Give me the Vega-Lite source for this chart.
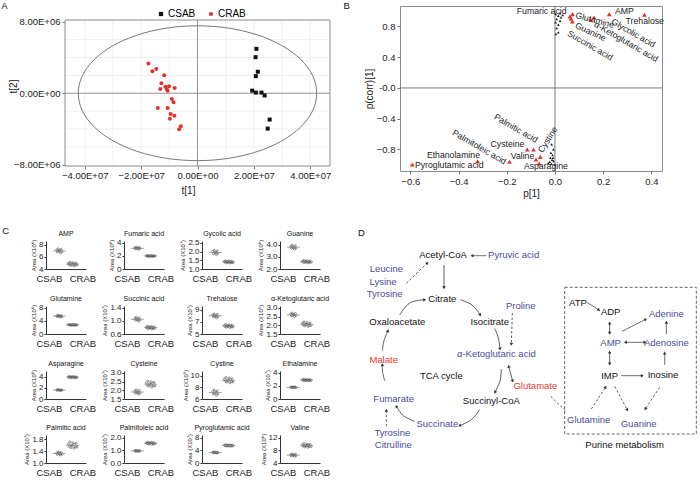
{
"$schema":"https://vega.github.io/schema/vega-lite/v6.json",
"padding":{"left":1,"top":0,"right":0,"bottom":0},
"background":"white",
"config":{
 "font":"Liberation Sans, Arial, sans-serif",
 "view":{"stroke":null},
 "axis":{"grid":false,"domainColor":"#333","tickColor":"#333","labelColor":"#222","titleColor":"#222","titleFontWeight":"normal","labelFontSize":8,"titleFontSize":6,"tickSize":2,"labelPadding":1,"titlePadding":2},
 "axisBand":{"labelAngle":0,"ticks":false,"labelFontSize":9.5,"labelPadding":4},
 "title":{"fontSize":7,"fontWeight":"normal","offset":2,"color":"#111"}
},
"datasets":{
 "ell":[{"o":0,"t1":42300000,"t2":0},{"o":1,"t1":40860000,"t2":1954000},{"o":2,"t1":36630000,"t2":3775000},{"o":3,"t1":29910000,"t2":5339000},{"o":4,"t1":21150000,"t2":6538000},{"o":5,"t1":10950000,"t2":7293000},{"o":6,"t1":0,"t2":7550000},{"o":7,"t1":-10950000,"t2":7293000},{"o":8,"t1":-21150000,"t2":6538000},{"o":9,"t1":-29910000,"t2":5339000},{"o":10,"t1":-36630000,"t2":3775000},{"o":11,"t1":-40860000,"t2":1954000},{"o":12,"t1":-42300000,"t2":0},{"o":13,"t1":-40860000,"t2":-1954000},{"o":14,"t1":-36630000,"t2":-3775000},{"o":15,"t1":-29910000,"t2":-5339000},{"o":16,"t1":-21150000,"t2":-6538000},{"o":17,"t1":-10950000,"t2":-7293000},{"o":18,"t1":0,"t2":-7550000},{"o":19,"t1":10950000,"t2":-7293000},{"o":20,"t1":21150000,"t2":-6538000},{"o":21,"t1":29910000,"t2":-5339000},{"o":22,"t1":36630000,"t2":-3775000},{"o":23,"t1":40860000,"t2":-1954000}],
 "gx":[{"t1":-40000000},{"t1":-30000000},{"t1":-20000000},{"t1":-10000000},{"t1":10000000},{"t1":20000000},{"t1":30000000},{"t1":40000000}],
 "gy":[{"t2":-6000000},{"t2":-4000000},{"t2":-2000000},{"t2":2000000},{"t2":4000000},{"t2":6000000}],
 "pa":[{"g":"CSAB","t1":20900000,"t2":4970000},{"g":"CSAB","t1":20600000,"t2":4040000},{"g":"CSAB","t1":21400000,"t2":2410000},{"g":"CSAB","t1":20700000,"t2":1910000},{"g":"CSAB","t1":19400000,"t2":290000},{"g":"CSAB","t1":20700000,"t2":70000},{"g":"CSAB","t1":22700000,"t2":70000},{"g":"CSAB","t1":23800000,"t2":-250000},{"g":"CSAB","t1":25600000,"t2":-2950000},{"g":"CSAB","t1":24900000,"t2":-3960000},
 {"g":"CRAB","t1":-17400000,"t2":3320000},{"g":"CRAB","t1":-16000000,"t2":2450000},{"g":"CRAB","t1":-14600000,"t2":2700000},{"g":"CRAB","t1":-11800000,"t2":2020000},{"g":"CRAB","t1":-12800000,"t2":1120000},{"g":"CRAB","t1":-13200000,"t2":470000},{"g":"CRAB","t1":-11400000,"t2":720000},{"g":"CRAB","t1":-10900000,"t2":470000},{"g":"CRAB","t1":-10100000,"t2":790000},{"g":"CRAB","t1":-10600000,"t2":290000},{"g":"CRAB","t1":-8100000,"t2":580000},{"g":"CRAB","t1":-9100000,"t2":-650000},{"g":"CRAB","t1":-8500000,"t2":-1010000},{"g":"CRAB","t1":-14100000,"t2":-1660000},{"g":"CRAB","t1":-10600000,"t2":-1660000},{"g":"CRAB","t1":-9500000,"t2":-2340000},{"g":"CRAB","t1":-8200000,"t2":-2520000},{"g":"CRAB","t1":-9800000,"t2":-2850000},{"g":"CRAB","t1":-5900000,"t2":-3710000},{"g":"CRAB","t1":-6500000,"t2":-4040000}],
 "pb":[{"k":"ns","px":0.003,"py":0.961},{"k":"ns","px":0.014,"py":0.939},{"k":"ns","px":0.025,"py":0.917},{"k":"ns","px":0.007,"py":0.896},{"k":"ns","px":0.021,"py":0.874},{"k":"ns","px":0.003,"py":0.852},{"k":"ns","px":0.014,"py":0.822},{"k":"ns","px":0.007,"py":0.778},{"k":"ns","px":0.014,"py":0.722},{"k":"ns","px":0.004,"py":0.7},{"k":"ns","px":0.021,"py":0.97},{"k":"ns","px":0.032,"py":0.948},
 {"k":"ns","px":-0.014,"py":-0.735},{"k":"ns","px":-0.007,"py":-0.8},{"k":"ns","px":-0.017,"py":-0.843},{"k":"ns","px":-0.01,"py":-0.874},{"k":"ns","px":-0.019,"py":-0.909},{"k":"ns","px":-0.012,"py":-0.935},{"k":"ns","px":-0.022,"py":-0.961},{"k":"ns","px":-0.006,"py":-0.952},{"k":"ns","px":-0.015,"py":-0.987},{"k":"ns","px":-0.028,"py":-0.978},{"k":"ns","px":-0.008,"py":-0.909},{"k":"ns","px":-0.001,"py":-0.996},
 {"k":"sig","n":"Trehalose","px":0.371,"py":0.952},{"k":"sig","n":"AMP","px":0.225,"py":0.96},{"k":"sig","n":"Glycolic acid","px":0.162,"py":0.917},{"k":"sig","n":"α-Ketoglutaric acid","px":0.148,"py":0.887},{"k":"sig","n":"Glutamine","px":0.073,"py":0.96},{"k":"sig","n":"Fumaric acid","px":0.062,"py":0.93},{"k":"sig","n":"Succinic acid","px":0.066,"py":0.9},{"k":"sig","n":"Guanine","px":0.072,"py":0.865},{"k":"sig","n":"Pyroglutamic acid","px":-0.592,"py":-0.996},{"k":"sig","n":"Ethanolamine","px":-0.321,"py":-0.952},{"k":"sig","n":"Palmitoleic acid","px":-0.189,"py":-0.96},{"k":"sig","n":"Cysteine","px":-0.115,"py":-0.8},{"k":"sig","n":"Palmitic acid","px":-0.089,"py":-0.8},{"k":"sig","n":"Valine","px":-0.079,"py":-0.93},{"k":"sig","n":"Asparagine","px":-0.066,"py":-0.983},{"k":"sig","n":"Cystine","px":-0.061,"py":-0.896}],
 "lb":[{"n":"Fumaric acid","lx":0.048,"ly":0.996,"grp":"hr"},{"n":"Glutamine","lx":0.086,"ly":0.952,"grp":"r15"},{"n":"AMP","lx":0.249,"ly":0.996,"grp":"hl"},{"n":"Trehalose","lx":0.293,"ly":0.874,"grp":"hl"},{"n":"Glycolic acid","lx":0.238,"ly":0.874,"grp":"r30"},{"n":"α-Ketoglutaric acid","lx":0.166,"ly":0.839,"grp":"r30"},{"n":"Guanine","lx":0.086,"ly":0.822,"grp":"r25"},{"n":"Succinic acid","lx":0.055,"ly":0.72,"grp":"r30"},{"n":"Palmitic acid","lx":-0.249,"ly":-0.365,"grp":"r30"},{"n":"Palmitoleic acid","lx":-0.422,"ly":-0.57,"grp":"r30"},{"n":"Cysteine","lx":-0.127,"ly":-0.735,"grp":"hr"},{"n":"Valine","lx":-0.086,"ly":-0.887,"grp":"hr"},{"n":"Asparagine","lx":-0.129,"ly":-1.009,"grp":"hl"},{"n":"Cystine","lx":-0.062,"ly":-0.83,"grp":"rm60"},{"n":"Ethanolamine","lx":-0.311,"ly":-0.874,"grp":"hr"},{"n":"Pyroglutamic acid","lx":-0.581,"ly":-1.004,"grp":"hl"}],
 "c1":[{"g":"CSAB","r":3,"v":7.12},{"g":"CSAB","r":4,"v":6.8},{"g":"CSAB","r":5,"v":7.32},{"g":"CSAB","r":6,"v":6.92},{"g":"CSAB","r":7,"v":7.04},{"g":"CSAB","r":8,"v":6.64},{"g":"CSAB","r":9,"v":7.24},{"g":"CSAB","r":10,"v":6.84},{"g":"CRAB","r":1,"v":4.94},{"g":"CRAB","r":2,"v":4.7},{"g":"CRAB","r":3,"v":5.12},{"g":"CRAB","r":4,"v":4.59},{"g":"CRAB","r":5,"v":4.84},{"g":"CRAB","r":6,"v":4.77},{"g":"CRAB","r":7,"v":5.05},{"g":"CRAB","r":8,"v":4.52},{"g":"CRAB","r":9,"v":4.87},{"g":"CRAB","r":10,"v":4.66},{"g":"CRAB","r":11,"v":4.98},{"g":"CRAB","r":12,"v":4.63}],
 "c2":[{"g":"CSAB","r":3,"v":3.26},{"g":"CSAB","r":4,"v":3.1},{"g":"CSAB","r":5,"v":3.36},{"g":"CSAB","r":6,"v":3.16},{"g":"CSAB","r":7,"v":3.22},{"g":"CSAB","r":8,"v":3.02},{"g":"CSAB","r":9,"v":3.32},{"g":"CSAB","r":10,"v":3.12},{"g":"CRAB","r":1,"v":2.04},{"g":"CRAB","r":2,"v":1.97},{"g":"CRAB","r":3,"v":2.09},{"g":"CRAB","r":4,"v":1.94},{"g":"CRAB","r":5,"v":2.01},{"g":"CRAB","r":6,"v":1.99},{"g":"CRAB","r":7,"v":2.07},{"g":"CRAB","r":8,"v":1.92},{"g":"CRAB","r":9,"v":2.02},{"g":"CRAB","r":10,"v":1.96},{"g":"CRAB","r":11,"v":2.05},{"g":"CRAB","r":12,"v":1.95}],
 "c3":[{"g":"CSAB","r":3,"v":2.0},{"g":"CSAB","r":4,"v":1.88},{"g":"CSAB","r":5,"v":2.07},{"g":"CSAB","r":6,"v":1.92},{"g":"CSAB","r":7,"v":1.97},{"g":"CSAB","r":8,"v":1.82},{"g":"CSAB","r":9,"v":2.04},{"g":"CSAB","r":10,"v":1.89},{"g":"CRAB","r":1,"v":1.43},{"g":"CRAB","r":2,"v":1.38},{"g":"CRAB","r":3,"v":1.47},{"g":"CRAB","r":4,"v":1.35},{"g":"CRAB","r":5,"v":1.41},{"g":"CRAB","r":6,"v":1.39},{"g":"CRAB","r":7,"v":1.46},{"g":"CRAB","r":8,"v":1.34},{"g":"CRAB","r":9,"v":1.42},{"g":"CRAB","r":10,"v":1.37},{"g":"CRAB","r":11,"v":1.44},{"g":"CRAB","r":12,"v":1.36}],
 "c4":[{"g":"CSAB","r":3,"v":3.86},{"g":"CSAB","r":4,"v":3.7},{"g":"CSAB","r":5,"v":3.96},{"g":"CSAB","r":6,"v":3.76},{"g":"CSAB","r":7,"v":3.82},{"g":"CSAB","r":8,"v":3.62},{"g":"CSAB","r":9,"v":3.92},{"g":"CSAB","r":10,"v":3.72},{"g":"CRAB","r":1,"v":2.65},{"g":"CRAB","r":2,"v":2.56},{"g":"CRAB","r":3,"v":2.71},{"g":"CRAB","r":4,"v":2.53},{"g":"CRAB","r":5,"v":2.61},{"g":"CRAB","r":6,"v":2.59},{"g":"CRAB","r":7,"v":2.68},{"g":"CRAB","r":8,"v":2.5},{"g":"CRAB","r":9,"v":2.62},{"g":"CRAB","r":10,"v":2.55},{"g":"CRAB","r":11,"v":2.66},{"g":"CRAB","r":12,"v":2.54}],
 "c5":[{"g":"CSAB","r":3,"v":5.61},{"g":"CSAB","r":4,"v":5.33},{"g":"CSAB","r":5,"v":5.78},{"g":"CSAB","r":6,"v":5.43},{"g":"CSAB","r":7,"v":5.54},{"g":"CSAB","r":8,"v":5.19},{"g":"CSAB","r":9,"v":5.71},{"g":"CSAB","r":10,"v":5.36},{"g":"CRAB","r":1,"v":2.86},{"g":"CRAB","r":2,"v":2.76},{"g":"CRAB","r":3,"v":2.94},{"g":"CRAB","r":4,"v":2.71},{"g":"CRAB","r":5,"v":2.82},{"g":"CRAB","r":6,"v":2.79},{"g":"CRAB","r":7,"v":2.91},{"g":"CRAB","r":8,"v":2.68},{"g":"CRAB","r":9,"v":2.83},{"g":"CRAB","r":10,"v":2.74},{"g":"CRAB","r":11,"v":2.88},{"g":"CRAB","r":12,"v":2.73}],
 "c6":[{"g":"CSAB","r":3,"v":1.07},{"g":"CSAB","r":4,"v":1.02},{"g":"CSAB","r":5,"v":1.11},{"g":"CSAB","r":6,"v":1.04},{"g":"CSAB","r":7,"v":1.06},{"g":"CSAB","r":8,"v":0.99},{"g":"CSAB","r":9,"v":1.09},{"g":"CSAB","r":10,"v":1.02},{"g":"CRAB","r":1,"v":0.81},{"g":"CRAB","r":2,"v":0.78},{"g":"CRAB","r":3,"v":0.84},{"g":"CRAB","r":4,"v":0.76},{"g":"CRAB","r":5,"v":0.8},{"g":"CRAB","r":6,"v":0.79},{"g":"CRAB","r":7,"v":0.83},{"g":"CRAB","r":8,"v":0.75},{"g":"CRAB","r":9,"v":0.8},{"g":"CRAB","r":10,"v":0.77},{"g":"CRAB","r":11,"v":0.82},{"g":"CRAB","r":12,"v":0.77}],
 "c7":[{"g":"CSAB","r":3,"v":8.12},{"g":"CSAB","r":4,"v":7.8},{"g":"CSAB","r":5,"v":8.32},{"g":"CSAB","r":6,"v":7.92},{"g":"CSAB","r":7,"v":8.04},{"g":"CSAB","r":8,"v":7.64},{"g":"CSAB","r":9,"v":8.24},{"g":"CSAB","r":10,"v":7.84},{"g":"CRAB","r":1,"v":6.42},{"g":"CRAB","r":2,"v":6.21},{"g":"CRAB","r":3,"v":6.57},{"g":"CRAB","r":4,"v":6.12},{"g":"CRAB","r":5,"v":6.33},{"g":"CRAB","r":6,"v":6.27},{"g":"CRAB","r":7,"v":6.51},{"g":"CRAB","r":8,"v":6.06},{"g":"CRAB","r":9,"v":6.36},{"g":"CRAB","r":10,"v":6.18},{"g":"CRAB","r":11,"v":6.45},{"g":"CRAB","r":12,"v":6.15}],
 "c8":[{"g":"CSAB","r":3,"v":2.64},{"g":"CSAB","r":4,"v":2.54},{"g":"CSAB","r":5,"v":2.7},{"g":"CSAB","r":6,"v":2.58},{"g":"CSAB","r":7,"v":2.61},{"g":"CSAB","r":8,"v":2.49},{"g":"CSAB","r":9,"v":2.67},{"g":"CSAB","r":10,"v":2.55},{"g":"CRAB","r":1,"v":2.11},{"g":"CRAB","r":2,"v":2.01},{"g":"CRAB","r":3,"v":2.19},{"g":"CRAB","r":4,"v":1.96},{"g":"CRAB","r":5,"v":2.07},{"g":"CRAB","r":6,"v":2.04},{"g":"CRAB","r":7,"v":2.16},{"g":"CRAB","r":8,"v":1.93},{"g":"CRAB","r":9,"v":2.08},{"g":"CRAB","r":10,"v":1.99},{"g":"CRAB","r":11,"v":2.13},{"g":"CRAB","r":12,"v":1.98}],
 "c9":[{"g":"CSAB","r":3,"v":1.63},{"g":"CSAB","r":4,"v":1.55},{"g":"CSAB","r":5,"v":1.68},{"g":"CSAB","r":6,"v":1.58},{"g":"CSAB","r":7,"v":1.61},{"g":"CSAB","r":8,"v":1.51},{"g":"CSAB","r":9,"v":1.66},{"g":"CSAB","r":10,"v":1.56},{"g":"CRAB","r":1,"v":3.96},{"g":"CRAB","r":2,"v":3.86},{"g":"CRAB","r":3,"v":4.04},{"g":"CRAB","r":4,"v":3.81},{"g":"CRAB","r":5,"v":3.92},{"g":"CRAB","r":6,"v":3.89},{"g":"CRAB","r":7,"v":4.01},{"g":"CRAB","r":8,"v":3.78},{"g":"CRAB","r":9,"v":3.93},{"g":"CRAB","r":10,"v":3.84},{"g":"CRAB","r":11,"v":3.98},{"g":"CRAB","r":12,"v":3.83}],
 "c10":[{"g":"CSAB","r":3,"v":1.95},{"g":"CSAB","r":4,"v":1.83},{"g":"CSAB","r":5,"v":2.02},{"g":"CSAB","r":6,"v":1.87},{"g":"CSAB","r":7,"v":1.92},{"g":"CSAB","r":8,"v":1.77},{"g":"CSAB","r":9,"v":1.99},{"g":"CSAB","r":10,"v":1.84},{"g":"CRAB","r":1,"v":2.43},{"g":"CRAB","r":2,"v":2.29},{"g":"CRAB","r":3,"v":2.53},{"g":"CRAB","r":4,"v":2.23},{"g":"CRAB","r":5,"v":2.37},{"g":"CRAB","r":6,"v":2.33},{"g":"CRAB","r":7,"v":2.49},{"g":"CRAB","r":8,"v":2.19},{"g":"CRAB","r":9,"v":2.39},{"g":"CRAB","r":10,"v":2.27},{"g":"CRAB","r":11,"v":2.45},{"g":"CRAB","r":12,"v":2.25}],
 "c11":[{"g":"CSAB","r":3,"v":7.27},{"g":"CSAB","r":4,"v":6.83},{"g":"CSAB","r":5,"v":7.54},{"g":"CSAB","r":6,"v":6.99},{"g":"CSAB","r":7,"v":7.16},{"g":"CSAB","r":8,"v":6.61},{"g":"CSAB","r":9,"v":7.43},{"g":"CSAB","r":10,"v":6.88},{"g":"CRAB","r":1,"v":9.42},{"g":"CRAB","r":2,"v":9.04},{"g":"CRAB","r":3,"v":9.7},{"g":"CRAB","r":4,"v":8.87},{"g":"CRAB","r":5,"v":9.26},{"g":"CRAB","r":6,"v":9.15},{"g":"CRAB","r":7,"v":9.59},{"g":"CRAB","r":8,"v":8.76},{"g":"CRAB","r":9,"v":9.31},{"g":"CRAB","r":10,"v":8.98},{"g":"CRAB","r":11,"v":9.48},{"g":"CRAB","r":12,"v":8.93}],
 "c12":[{"g":"CSAB","r":3,"v":1.82},{"g":"CSAB","r":4,"v":1.76},{"g":"CSAB","r":5,"v":1.86},{"g":"CSAB","r":6,"v":1.78},{"g":"CSAB","r":7,"v":1.81},{"g":"CSAB","r":8,"v":1.73},{"g":"CSAB","r":9,"v":1.85},{"g":"CSAB","r":10,"v":1.77},{"g":"CRAB","r":1,"v":2.96},{"g":"CRAB","r":2,"v":2.86},{"g":"CRAB","r":3,"v":3.04},{"g":"CRAB","r":4,"v":2.81},{"g":"CRAB","r":5,"v":2.92},{"g":"CRAB","r":6,"v":2.89},{"g":"CRAB","r":7,"v":3.01},{"g":"CRAB","r":8,"v":2.78},{"g":"CRAB","r":9,"v":2.93},{"g":"CRAB","r":10,"v":2.84},{"g":"CRAB","r":11,"v":2.98},{"g":"CRAB","r":12,"v":2.83}],
 "c13":[{"g":"CSAB","r":3,"v":1.34},{"g":"CSAB","r":4,"v":1.29},{"g":"CSAB","r":5,"v":1.37},{"g":"CSAB","r":6,"v":1.31},{"g":"CSAB","r":7,"v":1.33},{"g":"CSAB","r":8,"v":1.27},{"g":"CSAB","r":9,"v":1.36},{"g":"CSAB","r":10,"v":1.3},{"g":"CRAB","r":1,"v":1.65},{"g":"CRAB","r":2,"v":1.56},{"g":"CRAB","r":3,"v":1.72},{"g":"CRAB","r":4,"v":1.52},{"g":"CRAB","r":5,"v":1.61},{"g":"CRAB","r":6,"v":1.59},{"g":"CRAB","r":7,"v":1.69},{"g":"CRAB","r":8,"v":1.5},{"g":"CRAB","r":9,"v":1.63},{"g":"CRAB","r":10,"v":1.55},{"g":"CRAB","r":11,"v":1.67},{"g":"CRAB","r":12,"v":1.54}],
 "c14":[{"g":"CSAB","r":3,"v":0.97},{"g":"CSAB","r":4,"v":0.93},{"g":"CSAB","r":5,"v":0.99},{"g":"CSAB","r":6,"v":0.94},{"g":"CSAB","r":7,"v":0.96},{"g":"CSAB","r":8,"v":0.91},{"g":"CSAB","r":9,"v":0.98},{"g":"CSAB","r":10,"v":0.93},{"g":"CRAB","r":1,"v":1.59},{"g":"CRAB","r":2,"v":1.52},{"g":"CRAB","r":3,"v":1.64},{"g":"CRAB","r":4,"v":1.49},{"g":"CRAB","r":5,"v":1.56},{"g":"CRAB","r":6,"v":1.54},{"g":"CRAB","r":7,"v":1.62},{"g":"CRAB","r":8,"v":1.47},{"g":"CRAB","r":9,"v":1.57},{"g":"CRAB","r":10,"v":1.51},{"g":"CRAB","r":11,"v":1.6},{"g":"CRAB","r":12,"v":1.5}],
 "c15":[{"g":"CSAB","r":3,"v":3.36},{"g":"CSAB","r":4,"v":3.2},{"g":"CSAB","r":5,"v":3.46},{"g":"CSAB","r":6,"v":3.26},{"g":"CSAB","r":7,"v":3.32},{"g":"CSAB","r":8,"v":3.12},{"g":"CSAB","r":9,"v":3.42},{"g":"CSAB","r":10,"v":3.22},{"g":"CRAB","r":1,"v":5.62},{"g":"CRAB","r":2,"v":5.41},{"g":"CRAB","r":3,"v":5.77},{"g":"CRAB","r":4,"v":5.32},{"g":"CRAB","r":5,"v":5.53},{"g":"CRAB","r":6,"v":5.47},{"g":"CRAB","r":7,"v":5.71},{"g":"CRAB","r":8,"v":5.26},{"g":"CRAB","r":9,"v":5.56},{"g":"CRAB","r":10,"v":5.38},{"g":"CRAB","r":11,"v":5.65},{"g":"CRAB","r":12,"v":5.35}],
 "c16":[{"g":"CSAB","r":3,"v":6.64},{"g":"CSAB","r":4,"v":6.28},{"g":"CSAB","r":5,"v":6.86},{"g":"CSAB","r":6,"v":6.41},{"g":"CSAB","r":7,"v":6.55},{"g":"CSAB","r":8,"v":6.1},{"g":"CSAB","r":9,"v":6.77},{"g":"CSAB","r":10,"v":6.32},{"g":"CRAB","r":1,"v":9.78},{"g":"CRAB","r":2,"v":9.29},{"g":"CRAB","r":3,"v":10.13},{"g":"CRAB","r":4,"v":9.08},{"g":"CRAB","r":5,"v":9.57},{"g":"CRAB","r":6,"v":9.43},{"g":"CRAB","r":7,"v":9.99},{"g":"CRAB","r":8,"v":8.94},{"g":"CRAB","r":9,"v":9.64},{"g":"CRAB","r":10,"v":9.22},{"g":"CRAB","r":11,"v":9.85},{"g":"CRAB","r":12,"v":9.15}],
 "dn":[{"t":"Acetyl-CoA","x":285,"y":197,"s":"n"},{"t":"Pyruvic acid","x":497,"y":197,"s":"d"},{"t":"Leucine","x":115,"y":240,"s":"d"},{"t":"Lysine","x":105,"y":278,"s":"d"},{"t":"Tyrosine","x":110,"y":316,"s":"d"},{"t":"Citrate","x":283,"y":330,"s":"n"},{"t":"Proline","x":518,"y":350,"s":"d"},{"t":"Oxaloacetate","x":148,"y":400,"s":"n"},{"t":"Isocitrate","x":425,"y":400,"s":"n"},{"t":"α-Ketoglutaric acid","x":445,"y":495,"s":"d"},{"t":"Malate","x":107,"y":512,"s":"u"},{"t":"TCA cycle","x":280,"y":560,"s":"n"},{"t":"Glutamate","x":562,"y":592,"s":"u"},{"t":"Fumarate","x":137,"y":630,"s":"d"},{"t":"Succinyl-CoA","x":430,"y":636,"s":"n"},{"t":"Succinate","x":268,"y":705,"s":"d"},{"t":"Tyrosine","x":133,"y":732,"s":"d"},{"t":"Citrulline","x":136,"y":768,"s":"d"},{"t":"ATP","x":690,"y":343,"s":"n"},{"t":"ADP","x":788,"y":370,"s":"n"},{"t":"Adenine","x":955,"y":375,"s":"d"},{"t":"AMP","x":788,"y":463,"s":"d"},{"t":"Adenosine","x":955,"y":462,"s":"d"},{"t":"IMP","x":785,"y":560,"s":"n"},{"t":"Inosine","x":945,"y":557,"s":"n"},{"t":"Glutamine","x":722,"y":692,"s":"d"},{"t":"Guanine","x":872,"y":705,"s":"d"},{"t":"Purine metabolism","x":830,"y":768,"s":"n"}],
 "de":[{"x":415,"y":200,"x2":372,"y2":200,"d":"s"},{"x":288,"y":228,"x2":288,"y2":296,"d":"s"},{"x":175,"y":283,"x2":238,"y2":222,"d":"d"},{"x":493,"y":372,"x2":490,"y2":466,"d":"d"},{"x":115,"y":712,"x2":115,"y2":664,"d":"d"},{"x":482,"y":532,"x2":494,"y2":576,"d":"s"},{"x":608,"y":622,"x2":655,"y2":668,"d":"d"},{"x":717,"y":340,"x2":753,"y2":363,"d":"s"},{"x":785,"y":402,"x2":785,"y2":433,"d":"s"},{"x":822,"y":427,"x2":893,"y2":391,"d":"s"},{"x":955,"y":436,"x2":955,"y2":400,"d":"s"},{"x":832,"y":460,"x2":891,"y2":460,"d":"s"},{"x":785,"y":489,"x2":785,"y2":525,"d":"s"},{"x":820,"y":560,"x2":883,"y2":560,"d":"s"},{"x":950,"y":527,"x2":950,"y2":492,"d":"s"},{"x":730,"y":660,"x2":773,"y2":594,"d":"d"},{"x":800,"y":592,"x2":838,"y2":663,"d":"d"},{"x":935,"y":595,"x2":892,"y2":660,"d":"d"}],
 "da":[{"id":1,"o":0,"x":155,"y":378},{"id":1,"o":1,"x":185,"y":342},{"id":1,"o":2,"x":230,"y":332},{"id":2,"o":0,"x":337,"y":332},{"id":2,"o":1,"x":372,"y":348},{"id":2,"o":2,"x":397,"y":378},{"id":3,"o":0,"x":440,"y":418},{"id":3,"o":1,"x":451,"y":447},{"id":3,"o":2,"x":456,"y":480},{"id":4,"o":0,"x":460,"y":540},{"id":4,"o":1,"x":456,"y":576},{"id":4,"o":2,"x":441,"y":610},{"id":5,"o":0,"x":395,"y":662},{"id":5,"o":1,"x":370,"y":692},{"id":5,"o":2,"x":335,"y":710},{"id":6,"o":0,"x":200,"y":697},{"id":6,"o":1,"x":166,"y":680},{"id":6,"o":2,"x":145,"y":652},{"id":7,"o":0,"x":110,"y":575},{"id":7,"o":1,"x":104,"y":550},{"id":7,"o":2,"x":103,"y":527},{"id":8,"o":0,"x":103,"y":485},{"id":8,"o":1,"x":108,"y":455},{"id":8,"o":2,"x":120,"y":425}],
 "dh":[{"x":372,"y":200,"a":180},{"x":288,"y":296,"a":90},{"x":238,"y":222,"a":316},{"x":490,"y":466,"a":92},{"x":115,"y":664,"a":270},{"x":482,"y":532,"a":256},{"x":494,"y":576,"a":76},{"x":753,"y":363,"a":32},{"x":785,"y":402,"a":270},{"x":785,"y":433,"a":90},{"x":893,"y":391,"a":333},{"x":955,"y":400,"a":270},{"x":832,"y":460,"a":180},{"x":891,"y":460,"a":0},{"x":785,"y":489,"a":270},{"x":785,"y":525,"a":90},{"x":883,"y":560,"a":0},{"x":950,"y":492,"a":270},{"x":773,"y":594,"a":303},{"x":838,"y":663,"a":61},{"x":892,"y":660,"a":124},{"x":230,"y":332,"a":350},{"x":397,"y":378,"a":50},{"x":456,"y":480,"a":85},{"x":441,"y":610,"a":113},{"x":335,"y":710,"a":153},{"x":145,"y":652,"a":233},{"x":103,"y":527,"a":268},{"x":120,"y":425,"a":292}]
},
"spacing":26,
"vconcat":[
 {"hconcat":[
  {"width":284,"height":160,
   "title":{"text":"A","orient":"left","anchor":"end","angle":0,"align":"left","baseline":"middle","frame":"group","offset":1,"fontSize":9.5},
   "layer":[
    {"data":{"name":"gx"},"mark":{"type":"rule","color":"#ececec","strokeWidth":0.8},
     "encoding":{"x":{"field":"t1","type":"quantitative","title":"t[1]"},"y":{"datum":-8150000},"y2":{"datum":8200000}}},
    {"data":{"name":"gy"},"mark":{"type":"rule","color":"#ececec","strokeWidth":0.8},
     "encoding":{"y":{"field":"t2","type":"quantitative","title":"t[2]"},"x":{"datum":-47000000},"x2":{"datum":47000000}}},
    {"data":{"values":[{}]},"mark":{"type":"rect","filled":false,"stroke":"#8c8c8c","strokeWidth":1},
     "encoding":{"x":{"datum":-47000000},"x2":{"datum":47000000},"y":{"datum":-8150000},"y2":{"datum":8200000}}},
    {"data":{"name":"ell"},"mark":{"type":"line","interpolate":"cardinal-closed","color":"#555","strokeWidth":0.8},
     "encoding":{"x":{"field":"t1","type":"quantitative","title":"t[1]"},"y":{"field":"t2","type":"quantitative","title":"t[2]"},"order":{"field":"o","type":"quantitative"}}},
    {"data":{"values":[{}]},"mark":{"type":"rule","color":"#777","strokeWidth":0.8},"encoding":{"x":{"datum":0},"y":{"datum":-8150000},"y2":{"datum":8200000}}},
    {"data":{"values":[{}]},"mark":{"type":"rule","color":"#777","strokeWidth":0.8},"encoding":{"y":{"datum":0},"x":{"datum":-47000000},"x2":{"datum":47000000}}},
    {"data":{"name":"pa"},"mark":{"type":"point","filled":true,"opacity":1,"size":16},
     "encoding":{
      "x":{"field":"t1","type":"quantitative","title":"t[1]","scale":{"domain":[-53740000,47000000],"nice":false,"zero":false},"axis":{"values":[-40000000,-20000000,0,20000000,40000000],"labelExpr":"replace(upper(format(datum.value,'.2e')),'E+','E+0')","domain":false,"tickSize":3,"tickColor":"#777","labelFontSize":9.5,"labelPadding":1,"titleFontSize":10,"titlePadding":6}},
      "y":{"field":"t2","type":"quantitative","title":"t[2]","scale":{"domain":[-8150000,9768000],"nice":false,"zero":false},"axis":{"values":[-8000000,-4000000,0,4000000,8000000],"labelExpr":"replace(upper(format(datum.value,'.2e')),'E+','E+0')","offset":-19,"domain":false,"tickSize":3,"tickColor":"#777","labelFontSize":9.5,"labelPadding":2,"titleFontSize":10,"titlePadding":-5}},
      "color":{"field":"g","type":"nominal","scale":{"domain":["CSAB","CRAB"],"range":["#111111","#e8302a"]},"legend":{"orient":"none","legendX":110,"legendY":3,"direction":"horizontal","title":null,"padding":0,"labelFontSize":10,"symbolSize":18,"columnPadding":10,"labelOffset":2}},
      "shape":{"field":"g","type":"nominal","scale":{"domain":["CSAB","CRAB"],"range":["square","circle"]},"legend":{"orient":"none","legendX":110,"legendY":3,"direction":"horizontal","title":null,"padding":0,"labelFontSize":10,"symbolSize":18,"columnPadding":10,"labelOffset":2}}
     }}
   ]},
  {"width":262,"height":165,"view":{"stroke":"#8c8c8c"},
   "title":{"text":"B","orient":"left","anchor":"end","angle":0,"align":"right","baseline":"middle","frame":"group","offset":8,"fontSize":9.5},
   "layer":[
    {"data":{"values":[{}]},"mark":{"type":"rule","color":"#555","strokeWidth":0.8},"encoding":{"x":{"datum":0}}},
    {"data":{"values":[{}]},"mark":{"type":"rule","color":"#555","strokeWidth":0.8},"encoding":{"y":{"datum":0}}},
    {"data":{"name":"pb"},"transform":[{"filter":"datum.k=='ns'"}],"mark":{"type":"point","shape":"triangle-up","filled":true,"opacity":1,"size":7,"color":"#111"},
     "encoding":{
      "x":{"field":"px","type":"quantitative","title":"p[1]","scale":{"domain":[-0.643,0.444],"nice":false,"zero":false},"axis":{"values":[-0.6,-0.4,-0.2,0,0.2,0.4],"format":".1f","domain":false,"tickSize":3,"tickColor":"#777","labelFontSize":9.5,"labelPadding":2,"titleFontSize":10,"titlePadding":3}},
      "y":{"field":"py","type":"quantitative","title":"p(corr)[1]","scale":{"domain":[-1.08,1.066],"nice":false,"zero":false},"axis":{"values":[-0.8,-0.4,0,0.4,0.8],"labelExpr":"datum.value==0 ? '-0.0' : format(datum.value,'.1f')","domain":false,"tickSize":3,"tickColor":"#777","labelFontSize":9.5,"labelPadding":2,"titleFontSize":10,"titlePadding":2}}}},
    {"data":{"name":"pb"},"transform":[{"filter":"datum.k=='sig'"}],"mark":{"type":"point","shape":"triangle-up","filled":true,"opacity":1,"size":22,"color":"#e8302a"},
     "encoding":{"x":{"field":"px","type":"quantitative","title":"p[1]"},"y":{"field":"py","type":"quantitative","title":"p(corr)[1]"}}},
    {"data":{"name":"lb"},"transform":[{"filter":"datum.grp=='hr'"}],"mark":{"type":"text","align":"right","baseline":"middle","fontSize":8.7,"color":"#222"},
     "encoding":{"x":{"field":"lx","type":"quantitative","title":"p[1]"},"y":{"field":"ly","type":"quantitative","title":"p(corr)[1]"},"text":{"field":"n"}}},
    {"data":{"name":"lb"},"transform":[{"filter":"datum.grp=='hl'"}],"mark":{"type":"text","align":"left","baseline":"middle","fontSize":8.7,"color":"#222"},
     "encoding":{"x":{"field":"lx","type":"quantitative","title":"p[1]"},"y":{"field":"ly","type":"quantitative","title":"p(corr)[1]"},"text":{"field":"n"}}},
    {"data":{"name":"lb"},"transform":[{"filter":"datum.grp=='r15'"}],"mark":{"type":"text","align":"left","baseline":"middle","fontSize":8.7,"color":"#222","angle":15},
     "encoding":{"x":{"field":"lx","type":"quantitative","title":"p[1]"},"y":{"field":"ly","type":"quantitative","title":"p(corr)[1]"},"text":{"field":"n"}}},
    {"data":{"name":"lb"},"transform":[{"filter":"datum.grp=='r25'"}],"mark":{"type":"text","align":"left","baseline":"middle","fontSize":8.7,"color":"#222","angle":25},
     "encoding":{"x":{"field":"lx","type":"quantitative","title":"p[1]"},"y":{"field":"ly","type":"quantitative","title":"p(corr)[1]"},"text":{"field":"n"}}},
    {"data":{"name":"lb"},"transform":[{"filter":"datum.grp=='r30'"}],"mark":{"type":"text","align":"left","baseline":"middle","fontSize":8.7,"color":"#222","angle":30},
     "encoding":{"x":{"field":"lx","type":"quantitative","title":"p[1]"},"y":{"field":"ly","type":"quantitative","title":"p(corr)[1]"},"text":{"field":"n"}}},
    {"data":{"name":"lb"},"transform":[{"filter":"datum.grp=='rm60'"}],"mark":{"type":"text","align":"left","baseline":"middle","fontSize":8.7,"color":"#222","angle":-58},
     "encoding":{"x":{"field":"lx","type":"quantitative","title":"p[1]"},"y":{"field":"ly","type":"quantitative","title":"p(corr)[1]"},"text":{"field":"n"}}}
   ]}
 ],"spacing":12},
 {"hconcat":[
  {"concat":[
   {"data":{"name":"c1"},"title":{"text":"AMP"},"width":40,"height":28,"encoding":{"x":{"field":"g","type":"nominal","sort":["CSAB","CRAB"],"title":null,"scale":{"paddingInner":0.3,"paddingOuter":0.65},"axis":{"labelAlign":{"condition":{"test":"datum.value=='CSAB'","value":"right"},"value":"left"},"labelOffset":{"condition":{"test":"datum.value=='CSAB'","value":3},"value":-3}}},"y":{"field":"v","type":"quantitative","title":"Area (X10⁶)","scale":{"domain":[4,8.6],"nice":false,"zero":false},"axis":{"values":[4,6,8],"format":"d"}}},
    "layer":[{"mark":{"type":"point","size":4,"strokeWidth":0.6,"color":"#111"},"encoding":{"xOffset":{"field":"r","type":"nominal"}}},{"mark":{"type":"tick","size":13,"thickness":0.8,"color":"#888"},"encoding":{"y":{"aggregate":"mean","field":"v","type":"quantitative","title":"Area (X10⁶)"}}},{"data":{"values":[{}]},"mark":{"type":"rule","color":"#666","strokeWidth":0.8},"encoding":{"x":{"datum":"CSAB"},"x2":{"datum":"CRAB"},"y":{"datum":8.2}}},{"data":{"values":[{}]},"mark":{"type":"text","text":"**","fontSize":7,"dx":7,"dy":-1,"baseline":"bottom"},"encoding":{"x":{"datum":"CSAB"},"y":{"datum":8.2}}}]},
   {"data":{"name":"c2"},"title":{"text":"Fumaric acid"},"width":40,"height":28,"encoding":{"x":{"field":"g","type":"nominal","sort":["CSAB","CRAB"],"title":null,"scale":{"paddingInner":0.3,"paddingOuter":0.65},"axis":{"labelAlign":{"condition":{"test":"datum.value=='CSAB'","value":"right"},"value":"left"},"labelOffset":{"condition":{"test":"datum.value=='CSAB'","value":3},"value":-3}}},"y":{"field":"v","type":"quantitative","title":"Area (X10⁶)","scale":{"domain":[0,4.3],"nice":false,"zero":false},"axis":{"values":[0,2,4],"format":"d"}}},
    "layer":[{"mark":{"type":"point","size":4,"strokeWidth":0.6,"color":"#111"},"encoding":{"xOffset":{"field":"r","type":"nominal"}}},{"mark":{"type":"tick","size":13,"thickness":0.8,"color":"#888"},"encoding":{"y":{"aggregate":"mean","field":"v","type":"quantitative","title":"Area (X10⁶)"}}},{"data":{"values":[{}]},"mark":{"type":"rule","color":"#666","strokeWidth":0.8},"encoding":{"x":{"datum":"CSAB"},"x2":{"datum":"CRAB"},"y":{"datum":3.7}}},{"data":{"values":[{}]},"mark":{"type":"text","text":"**","fontSize":7,"dx":7,"dy":-1,"baseline":"bottom"},"encoding":{"x":{"datum":"CSAB"},"y":{"datum":3.7}}}]},
   {"data":{"name":"c3"},"title":{"text":"Gycolic acid"},"width":40,"height":28,"encoding":{"x":{"field":"g","type":"nominal","sort":["CSAB","CRAB"],"title":null,"scale":{"paddingInner":0.3,"paddingOuter":0.65},"axis":{"labelAlign":{"condition":{"test":"datum.value=='CSAB'","value":"right"},"value":"left"},"labelOffset":{"condition":{"test":"datum.value=='CSAB'","value":3},"value":-3}}},"y":{"field":"v","type":"quantitative","title":"Area (X10⁷)","scale":{"domain":[1,2.6],"nice":false,"zero":false},"axis":{"values":[1,1.5,2,2.5],"format":".1f"}}},
    "layer":[{"mark":{"type":"point","size":4,"strokeWidth":0.6,"color":"#111"},"encoding":{"xOffset":{"field":"r","type":"nominal"}}},{"mark":{"type":"tick","size":13,"thickness":0.8,"color":"#888"},"encoding":{"y":{"aggregate":"mean","field":"v","type":"quantitative","title":"Area (X10⁷)"}}},{"data":{"values":[{}]},"mark":{"type":"rule","color":"#666","strokeWidth":0.8},"encoding":{"x":{"datum":"CSAB"},"x2":{"datum":"CRAB"},"y":{"datum":2.3}}},{"data":{"values":[{}]},"mark":{"type":"text","text":"**","fontSize":7,"dx":7,"dy":-1,"baseline":"bottom"},"encoding":{"x":{"datum":"CSAB"},"y":{"datum":2.3}}}]},
   {"data":{"name":"c4"},"title":{"text":"Guanine"},"width":40,"height":28,"encoding":{"x":{"field":"g","type":"nominal","sort":["CSAB","CRAB"],"title":null,"scale":{"paddingInner":0.3,"paddingOuter":0.65},"axis":{"labelAlign":{"condition":{"test":"datum.value=='CSAB'","value":"right"},"value":"left"},"labelOffset":{"condition":{"test":"datum.value=='CSAB'","value":3},"value":-3}}},"y":{"field":"v","type":"quantitative","title":"Area (X10⁶)","scale":{"domain":[2,4.3],"nice":false,"zero":false},"axis":{"values":[2,3,4],"format":".1f"}}},
    "layer":[{"mark":{"type":"point","size":4,"strokeWidth":0.6,"color":"#111"},"encoding":{"xOffset":{"field":"r","type":"nominal"}}},{"mark":{"type":"tick","size":13,"thickness":0.8,"color":"#888"},"encoding":{"y":{"aggregate":"mean","field":"v","type":"quantitative","title":"Area (X10⁶)"}}},{"data":{"values":[{}]},"mark":{"type":"rule","color":"#666","strokeWidth":0.8},"encoding":{"x":{"datum":"CSAB"},"x2":{"datum":"CRAB"},"y":{"datum":4.12}}},{"data":{"values":[{}]},"mark":{"type":"text","text":"**","fontSize":7,"dx":7,"dy":-1,"baseline":"bottom"},"encoding":{"x":{"datum":"CSAB"},"y":{"datum":4.12}}}]},
   {"data":{"name":"c5"},"title":{"text":"Glutamine"},"width":40,"height":28,"encoding":{"x":{"field":"g","type":"nominal","sort":["CSAB","CRAB"],"title":null,"scale":{"paddingInner":0.3,"paddingOuter":0.65},"axis":{"labelAlign":{"condition":{"test":"datum.value=='CSAB'","value":"right"},"value":"left"},"labelOffset":{"condition":{"test":"datum.value=='CSAB'","value":3},"value":-3}}},"y":{"field":"v","type":"quantitative","title":"Area (X10⁶)","scale":{"domain":[0,8.6],"nice":false,"zero":false},"axis":{"values":[0,4,8],"format":"d"}}},
    "layer":[{"mark":{"type":"point","size":4,"strokeWidth":0.6,"color":"#111"},"encoding":{"xOffset":{"field":"r","type":"nominal"}}},{"mark":{"type":"tick","size":13,"thickness":0.8,"color":"#888"},"encoding":{"y":{"aggregate":"mean","field":"v","type":"quantitative","title":"Area (X10⁶)"}}},{"data":{"values":[{}]},"mark":{"type":"rule","color":"#666","strokeWidth":0.8},"encoding":{"x":{"datum":"CSAB"},"x2":{"datum":"CRAB"},"y":{"datum":6.8}}},{"data":{"values":[{}]},"mark":{"type":"text","text":"**","fontSize":7,"dx":7,"dy":-1,"baseline":"bottom"},"encoding":{"x":{"datum":"CSAB"},"y":{"datum":6.8}}}]},
   {"data":{"name":"c6"},"title":{"text":"Succinic acid"},"width":40,"height":28,"encoding":{"x":{"field":"g","type":"nominal","sort":["CSAB","CRAB"],"title":null,"scale":{"paddingInner":0.3,"paddingOuter":0.65},"axis":{"labelAlign":{"condition":{"test":"datum.value=='CSAB'","value":"right"},"value":"left"},"labelOffset":{"condition":{"test":"datum.value=='CSAB'","value":3},"value":-3}}},"y":{"field":"v","type":"quantitative","title":"Area (X10⁷)","scale":{"domain":[0.6,1.45],"nice":false,"zero":false},"axis":{"values":[0.6,1,1.4],"format":".1f"}}},
    "layer":[{"mark":{"type":"point","size":4,"strokeWidth":0.6,"color":"#111"},"encoding":{"xOffset":{"field":"r","type":"nominal"}}},{"mark":{"type":"tick","size":13,"thickness":0.8,"color":"#888"},"encoding":{"y":{"aggregate":"mean","field":"v","type":"quantitative","title":"Area (X10⁷)"}}},{"data":{"values":[{}]},"mark":{"type":"rule","color":"#666","strokeWidth":0.8},"encoding":{"x":{"datum":"CSAB"},"x2":{"datum":"CRAB"},"y":{"datum":1.22}}},{"data":{"values":[{}]},"mark":{"type":"text","text":"**","fontSize":7,"dx":7,"dy":-1,"baseline":"bottom"},"encoding":{"x":{"datum":"CSAB"},"y":{"datum":1.22}}}]},
   {"data":{"name":"c7"},"title":{"text":"Trehalose"},"width":40,"height":28,"encoding":{"x":{"field":"g","type":"nominal","sort":["CSAB","CRAB"],"title":null,"scale":{"paddingInner":0.3,"paddingOuter":0.65},"axis":{"labelAlign":{"condition":{"test":"datum.value=='CSAB'","value":"right"},"value":"left"},"labelOffset":{"condition":{"test":"datum.value=='CSAB'","value":3},"value":-3}}},"y":{"field":"v","type":"quantitative","title":"Area (X10⁷)","scale":{"domain":[5,9.6],"nice":false,"zero":false},"axis":{"values":[5,7,9],"format":"d"}}},
    "layer":[{"mark":{"type":"point","size":4,"strokeWidth":0.6,"color":"#111"},"encoding":{"xOffset":{"field":"r","type":"nominal"}}},{"mark":{"type":"tick","size":13,"thickness":0.8,"color":"#888"},"encoding":{"y":{"aggregate":"mean","field":"v","type":"quantitative","title":"Area (X10⁷)"}}},{"data":{"values":[{}]},"mark":{"type":"rule","color":"#666","strokeWidth":0.8},"encoding":{"x":{"datum":"CSAB"},"x2":{"datum":"CRAB"},"y":{"datum":8.9}}},{"data":{"values":[{}]},"mark":{"type":"text","text":"**","fontSize":7,"dx":7,"dy":-1,"baseline":"bottom"},"encoding":{"x":{"datum":"CSAB"},"y":{"datum":8.9}}}]},
   {"data":{"name":"c8"},"title":{"text":"α-Ketoglutaric acid"},"width":40,"height":28,"encoding":{"x":{"field":"g","type":"nominal","sort":["CSAB","CRAB"],"title":null,"scale":{"paddingInner":0.3,"paddingOuter":0.65},"axis":{"labelAlign":{"condition":{"test":"datum.value=='CSAB'","value":"right"},"value":"left"},"labelOffset":{"condition":{"test":"datum.value=='CSAB'","value":3},"value":-3}}},"y":{"field":"v","type":"quantitative","title":"Area (X10⁵)","scale":{"domain":[1.5,3.1],"nice":false,"zero":false},"axis":{"values":[1.5,2,2.5,3],"format":".1f"}}},
    "layer":[{"mark":{"type":"point","size":4,"strokeWidth":0.6,"color":"#111"},"encoding":{"xOffset":{"field":"r","type":"nominal"}}},{"mark":{"type":"tick","size":13,"thickness":0.8,"color":"#888"},"encoding":{"y":{"aggregate":"mean","field":"v","type":"quantitative","title":"Area (X10⁵)"}}},{"data":{"values":[{}]},"mark":{"type":"rule","color":"#666","strokeWidth":0.8},"encoding":{"x":{"datum":"CSAB"},"x2":{"datum":"CRAB"},"y":{"datum":2.85}}},{"data":{"values":[{}]},"mark":{"type":"text","text":"**","fontSize":7,"dx":7,"dy":-1,"baseline":"bottom"},"encoding":{"x":{"datum":"CSAB"},"y":{"datum":2.85}}}]},
   {"data":{"name":"c9"},"title":{"text":"Asparagine"},"width":40,"height":28,"encoding":{"x":{"field":"g","type":"nominal","sort":["CSAB","CRAB"],"title":null,"scale":{"paddingInner":0.3,"paddingOuter":0.65},"axis":{"labelAlign":{"condition":{"test":"datum.value=='CSAB'","value":"right"},"value":"left"},"labelOffset":{"condition":{"test":"datum.value=='CSAB'","value":3},"value":-3}}},"y":{"field":"v","type":"quantitative","title":"Area (X10⁶)","scale":{"domain":[0,5],"nice":false,"zero":false},"axis":{"values":[0,2,4],"format":"d"}}},
    "layer":[{"mark":{"type":"point","size":4,"strokeWidth":0.6,"color":"#111"},"encoding":{"xOffset":{"field":"r","type":"nominal"}}},{"mark":{"type":"tick","size":13,"thickness":0.8,"color":"#888"},"encoding":{"y":{"aggregate":"mean","field":"v","type":"quantitative","title":"Area (X10⁶)"}}},{"data":{"values":[{}]},"mark":{"type":"rule","color":"#666","strokeWidth":0.8},"encoding":{"x":{"datum":"CSAB"},"x2":{"datum":"CRAB"},"y":{"datum":4.6}}},{"data":{"values":[{}]},"mark":{"type":"text","text":"**","fontSize":7,"dx":7,"dy":-1,"baseline":"bottom"},"encoding":{"x":{"datum":"CSAB"},"y":{"datum":4.6}}}]},
   {"data":{"name":"c10"},"title":{"text":"Cysteine"},"width":40,"height":28,"encoding":{"x":{"field":"g","type":"nominal","sort":["CSAB","CRAB"],"title":null,"scale":{"paddingInner":0.3,"paddingOuter":0.65},"axis":{"labelAlign":{"condition":{"test":"datum.value=='CSAB'","value":"right"},"value":"left"},"labelOffset":{"condition":{"test":"datum.value=='CSAB'","value":3},"value":-3}}},"y":{"field":"v","type":"quantitative","title":"Area (X10⁷)","scale":{"domain":[1.5,3.1],"nice":false,"zero":false},"axis":{"values":[1.5,2,2.5,3],"format":".1f"}}},
    "layer":[{"mark":{"type":"point","size":4,"strokeWidth":0.6,"color":"#111"},"encoding":{"xOffset":{"field":"r","type":"nominal"}}},{"mark":{"type":"tick","size":13,"thickness":0.8,"color":"#888"},"encoding":{"y":{"aggregate":"mean","field":"v","type":"quantitative","title":"Area (X10⁷)"}}},{"data":{"values":[{}]},"mark":{"type":"rule","color":"#666","strokeWidth":0.8},"encoding":{"x":{"datum":"CSAB"},"x2":{"datum":"CRAB"},"y":{"datum":2.85}}},{"data":{"values":[{}]},"mark":{"type":"text","text":"**","fontSize":7,"dx":7,"dy":-1,"baseline":"bottom"},"encoding":{"x":{"datum":"CSAB"},"y":{"datum":2.85}}}]},
   {"data":{"name":"c11"},"title":{"text":"Cystine"},"width":40,"height":28,"encoding":{"x":{"field":"g","type":"nominal","sort":["CSAB","CRAB"],"title":null,"scale":{"paddingInner":0.3,"paddingOuter":0.65},"axis":{"labelAlign":{"condition":{"test":"datum.value=='CSAB'","value":"right"},"value":"left"},"labelOffset":{"condition":{"test":"datum.value=='CSAB'","value":3},"value":-3}}},"y":{"field":"v","type":"quantitative","title":"Area (X10⁵)","scale":{"domain":[6,10.8],"nice":false,"zero":false},"axis":{"values":[6,8,10],"format":"d"}}},
    "layer":[{"mark":{"type":"point","size":4,"strokeWidth":0.6,"color":"#111"},"encoding":{"xOffset":{"field":"r","type":"nominal"}}},{"mark":{"type":"tick","size":13,"thickness":0.8,"color":"#888"},"encoding":{"y":{"aggregate":"mean","field":"v","type":"quantitative","title":"Area (X10⁵)"}}},{"data":{"values":[{}]},"mark":{"type":"rule","color":"#666","strokeWidth":0.8},"encoding":{"x":{"datum":"CSAB"},"x2":{"datum":"CRAB"},"y":{"datum":10.3}}},{"data":{"values":[{}]},"mark":{"type":"text","text":"**","fontSize":7,"dx":7,"dy":-1,"baseline":"bottom"},"encoding":{"x":{"datum":"CSAB"},"y":{"datum":10.3}}}]},
   {"data":{"name":"c12"},"title":{"text":"Ethalamine"},"width":40,"height":28,"encoding":{"x":{"field":"g","type":"nominal","sort":["CSAB","CRAB"],"title":null,"scale":{"paddingInner":0.3,"paddingOuter":0.65},"axis":{"labelAlign":{"condition":{"test":"datum.value=='CSAB'","value":"right"},"value":"left"},"labelOffset":{"condition":{"test":"datum.value=='CSAB'","value":3},"value":-3}}},"y":{"field":"v","type":"quantitative","title":"Area (X10⁷)","scale":{"domain":[0,4.3],"nice":false,"zero":false},"axis":{"values":[0,2,4],"format":"d"}}},
    "layer":[{"mark":{"type":"point","size":4,"strokeWidth":0.6,"color":"#111"},"encoding":{"xOffset":{"field":"r","type":"nominal"}}},{"mark":{"type":"tick","size":13,"thickness":0.8,"color":"#888"},"encoding":{"y":{"aggregate":"mean","field":"v","type":"quantitative","title":"Area (X10⁷)"}}},{"data":{"values":[{}]},"mark":{"type":"rule","color":"#666","strokeWidth":0.8},"encoding":{"x":{"datum":"CSAB"},"x2":{"datum":"CRAB"},"y":{"datum":3.6}}},{"data":{"values":[{}]},"mark":{"type":"text","text":"**","fontSize":7,"dx":7,"dy":-1,"baseline":"bottom"},"encoding":{"x":{"datum":"CSAB"},"y":{"datum":3.6}}}]},
   {"data":{"name":"c13"},"title":{"text":"Palmitic acid"},"width":40,"height":28,"encoding":{"x":{"field":"g","type":"nominal","sort":["CSAB","CRAB"],"title":null,"scale":{"paddingInner":0.3,"paddingOuter":0.65},"axis":{"labelAlign":{"condition":{"test":"datum.value=='CSAB'","value":"right"},"value":"left"},"labelOffset":{"condition":{"test":"datum.value=='CSAB'","value":3},"value":-3}}},"y":{"field":"v","type":"quantitative","title":"Area (X10⁷)","scale":{"domain":[1,1.95],"nice":false,"zero":false},"axis":{"values":[1,1.4,1.8],"format":".1f"}}},
    "layer":[{"mark":{"type":"point","size":4,"strokeWidth":0.6,"color":"#111"},"encoding":{"xOffset":{"field":"r","type":"nominal"}}},{"mark":{"type":"tick","size":13,"thickness":0.8,"color":"#888"},"encoding":{"y":{"aggregate":"mean","field":"v","type":"quantitative","title":"Area (X10⁷)"}}},{"data":{"values":[{}]},"mark":{"type":"rule","color":"#666","strokeWidth":0.8},"encoding":{"x":{"datum":"CSAB"},"x2":{"datum":"CRAB"},"y":{"datum":1.83}}},{"data":{"values":[{}]},"mark":{"type":"text","text":"**","fontSize":7,"dx":7,"dy":-1,"baseline":"bottom"},"encoding":{"x":{"datum":"CSAB"},"y":{"datum":1.83}}}]},
   {"data":{"name":"c14"},"title":{"text":"Palmitoleic acid"},"width":40,"height":28,"encoding":{"x":{"field":"g","type":"nominal","sort":["CSAB","CRAB"],"title":null,"scale":{"paddingInner":0.3,"paddingOuter":0.65},"axis":{"labelAlign":{"condition":{"test":"datum.value=='CSAB'","value":"right"},"value":"left"},"labelOffset":{"condition":{"test":"datum.value=='CSAB'","value":3},"value":-3}}},"y":{"field":"v","type":"quantitative","title":"Area (X10⁷)","scale":{"domain":[0,2.2],"nice":false,"zero":false},"axis":{"values":[0,1,2],"format":".1f"}}},
    "layer":[{"mark":{"type":"point","size":4,"strokeWidth":0.6,"color":"#111"},"encoding":{"xOffset":{"field":"r","type":"nominal"}}},{"mark":{"type":"tick","size":13,"thickness":0.8,"color":"#888"},"encoding":{"y":{"aggregate":"mean","field":"v","type":"quantitative","title":"Area (X10⁷)"}}},{"data":{"values":[{}]},"mark":{"type":"rule","color":"#666","strokeWidth":0.8},"encoding":{"x":{"datum":"CSAB"},"x2":{"datum":"CRAB"},"y":{"datum":1.95}}},{"data":{"values":[{}]},"mark":{"type":"text","text":"**","fontSize":7,"dx":7,"dy":-1,"baseline":"bottom"},"encoding":{"x":{"datum":"CSAB"},"y":{"datum":1.95}}}]},
   {"data":{"name":"c15"},"title":{"text":"Pyroglutamic acid"},"width":40,"height":28,"encoding":{"x":{"field":"g","type":"nominal","sort":["CSAB","CRAB"],"title":null,"scale":{"paddingInner":0.3,"paddingOuter":0.65},"axis":{"labelAlign":{"condition":{"test":"datum.value=='CSAB'","value":"right"},"value":"left"},"labelOffset":{"condition":{"test":"datum.value=='CSAB'","value":3},"value":-3}}},"y":{"field":"v","type":"quantitative","title":"Area (X10⁷)","scale":{"domain":[0,8.8],"nice":false,"zero":false},"axis":{"values":[0,4,8],"format":"d"}}},
    "layer":[{"mark":{"type":"point","size":4,"strokeWidth":0.6,"color":"#111"},"encoding":{"xOffset":{"field":"r","type":"nominal"}}},{"mark":{"type":"tick","size":13,"thickness":0.8,"color":"#888"},"encoding":{"y":{"aggregate":"mean","field":"v","type":"quantitative","title":"Area (X10⁷)"}}},{"data":{"values":[{}]},"mark":{"type":"rule","color":"#666","strokeWidth":0.8},"encoding":{"x":{"datum":"CSAB"},"x2":{"datum":"CRAB"},"y":{"datum":7.5}}},{"data":{"values":[{}]},"mark":{"type":"text","text":"**","fontSize":7,"dx":7,"dy":-1,"baseline":"bottom"},"encoding":{"x":{"datum":"CSAB"},"y":{"datum":7.5}}}]},
   {"data":{"name":"c16"},"title":{"text":"Valine"},"width":40,"height":28,"encoding":{"x":{"field":"g","type":"nominal","sort":["CSAB","CRAB"],"title":null,"scale":{"paddingInner":0.3,"paddingOuter":0.65},"axis":{"labelAlign":{"condition":{"test":"datum.value=='CSAB'","value":"right"},"value":"left"},"labelOffset":{"condition":{"test":"datum.value=='CSAB'","value":3},"value":-3}}},"y":{"field":"v","type":"quantitative","title":"Area (X10⁶)","scale":{"domain":[4,12.8],"nice":false,"zero":false},"axis":{"values":[4,8,12],"format":"d"}}},
    "layer":[{"mark":{"type":"point","size":4,"strokeWidth":0.6,"color":"#111"},"encoding":{"xOffset":{"field":"r","type":"nominal"}}},{"mark":{"type":"tick","size":13,"thickness":0.8,"color":"#888"},"encoding":{"y":{"aggregate":"mean","field":"v","type":"quantitative","title":"Area (X10⁶)"}}},{"data":{"values":[{}]},"mark":{"type":"rule","color":"#666","strokeWidth":0.8},"encoding":{"x":{"datum":"CSAB"},"x2":{"datum":"CRAB"},"y":{"datum":11.2}}},{"data":{"values":[{}]},"mark":{"type":"text","text":"**","fontSize":7,"dx":7,"dy":-1,"baseline":"bottom"},"encoding":{"x":{"datum":"CSAB"},"y":{"datum":11.2}}}]}
  ],"columns":4,"spacing":{"row":11,"column":5},
  "title":{"text":"C","orient":"left","anchor":"end","angle":0,"align":"right","baseline":"top","frame":"bounds","offset":8,"dy":-4,"fontSize":9.5}},
  {"width":343,"height":228,
   "title":{"text":"D","anchor":"start","frame":"group","fontSize":9.5,"offset":4,"dx":3},
   "layer":[
    {"data":{"values":[{"x":650,"y":295,"x2":1045,"y2":735}]},"mark":{"type":"rect","filled":false,"stroke":"#555","strokeWidth":0.9,"strokeDash":[3,2]},
     "encoding":{"x":{"field":"x","type":"quantitative","scale":{"domain":[21,1050],"nice":false,"zero":false},"axis":null},"x2":{"field":"x2"},"y":{"field":"y","type":"quantitative","scale":{"domain":[156,840],"nice":false,"zero":false,"reverse":true},"axis":null},"y2":{"field":"y2"}}},
    {"data":{"name":"de"},"mark":{"type":"rule","color":"#333","strokeWidth":0.8},
     "encoding":{"x":{"field":"x","type":"quantitative","axis":null},"x2":{"field":"x2"},"y":{"field":"y","type":"quantitative","axis":null},"y2":{"field":"y2"},"strokeDash":{"field":"d","type":"nominal","scale":{"domain":["s","d"],"range":[[1,0],[2.5,2]]},"legend":null}}},
    {"data":{"name":"da"},"mark":{"type":"line","interpolate":"cardinal","color":"#333","strokeWidth":0.8},
     "encoding":{"x":{"field":"x","type":"quantitative","axis":null},"y":{"field":"y","type":"quantitative","axis":null},"detail":{"field":"id"},"order":{"field":"o","type":"quantitative"}}},
    {"data":{"name":"dh"},"mark":{"type":"point","shape":"triangle-right","filled":true,"opacity":1,"color":"#333","size":12},
     "encoding":{"x":{"field":"x","type":"quantitative","axis":null},"y":{"field":"y","type":"quantitative","axis":null},"angle":{"field":"a","type":"quantitative","scale":null}}},
    {"data":{"name":"dn"},"transform":[{"filter":"datum.s=='n'"}],"mark":{"type":"text","baseline":"middle","fontSize":9.5,"color":"#111111"},
     "encoding":{"x":{"field":"x","type":"quantitative","axis":null},"y":{"field":"y","type":"quantitative","axis":null},"text":{"field":"t"}}},
    {"data":{"name":"dn"},"transform":[{"filter":"datum.s=='d'"}],"mark":{"type":"text","baseline":"middle","fontSize":9.5,"color":"#4b4b9b"},
     "encoding":{"x":{"field":"x","type":"quantitative","axis":null},"y":{"field":"y","type":"quantitative","axis":null},"text":{"field":"t"}}},
    {"data":{"name":"dn"},"transform":[{"filter":"datum.s=='u'"}],"mark":{"type":"text","baseline":"middle","fontSize":9.5,"color":"#e5352b"},
     "encoding":{"x":{"field":"x","type":"quantitative","axis":null},"y":{"field":"y","type":"quantitative","axis":null},"text":{"field":"t"}}}
   ]}
 ],"spacing":25}
]
}
